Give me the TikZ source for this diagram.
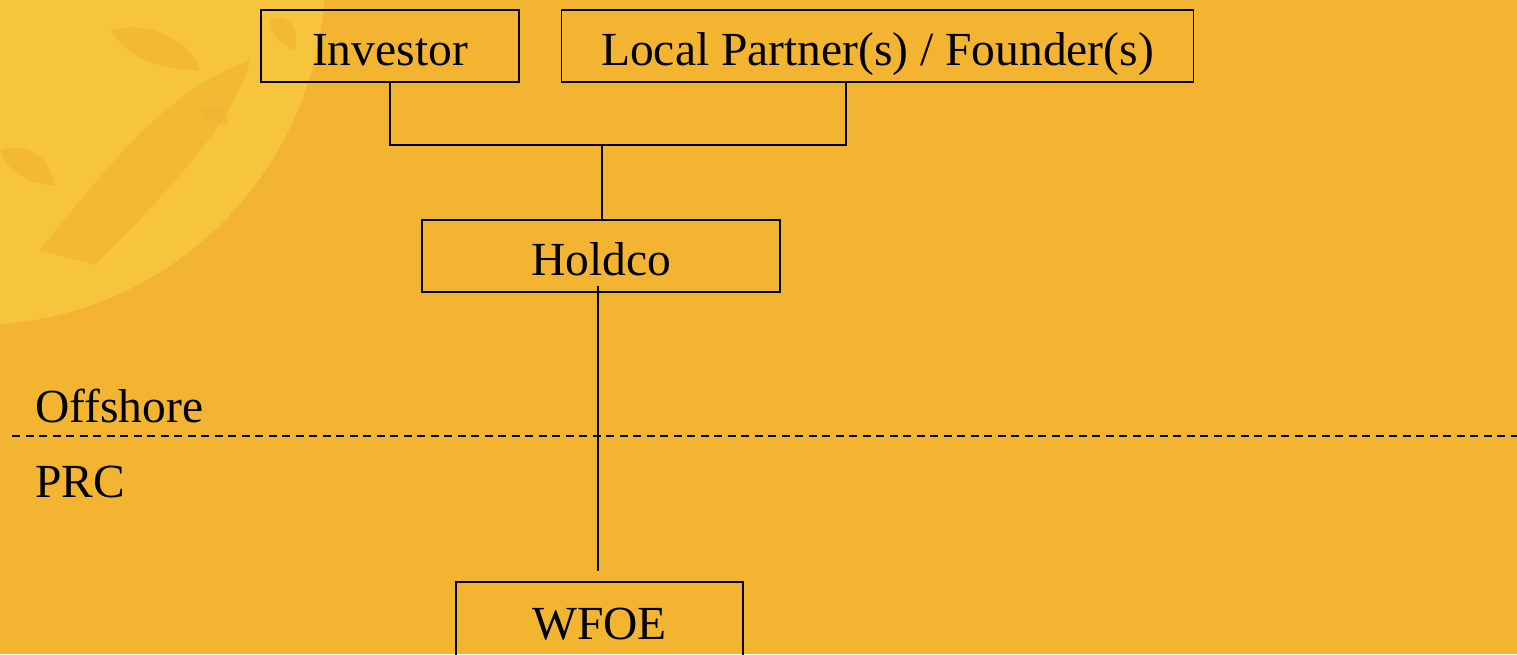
\documentclass[tikz,border=0pt]{standalone}
\usepackage{fontspec}
\setmainfont{Liberation Serif}
\usetikzlibrary{calc}
\definecolor{bgorange}{HTML}{F2B431}
\definecolor{lightorn}{HTML}{F7C53B}
\tikzset{
  entity/.style={draw=black, line width=1.8pt, fill=none, inner sep=0pt, align=center,
    font=\fontsize{47.5}{56}\selectfont},
  side/.style={font=\fontsize{47.5}{56}\selectfont, inner sep=0pt},
  link/.style={draw=black, line width=1.8pt},
  border/.style={draw=black, line width=1.6pt, dash pattern=on 8pt off 5.5pt},
}
\begin{document}
\begin{tikzpicture}[x=1pt,y=-1pt]
  \useasboundingbox (0,0) rectangle (1517,654);
  \clip (0,0) rectangle (1517,654);
  \fill[bgorange] (0,0) rectangle (1517,654);
  % decorative paper-cut motif, top left
  \fill[lightorn] (-25,-25) circle (350);
  \begin{scope}[bgorange, opacity=0.7]
    \fill (40,250) .. controls (120,150) and (170,90) .. (250,60) .. controls (235,120) and (170,190) .. (95,265) -- cycle;
    \fill (110,30) .. controls (150,20) and (190,40) .. (200,70) .. controls (160,70) and (130,60) .. (110,30) -- cycle;
    \fill (0,150) .. controls (30,140) and (50,160) .. (55,185) .. controls (30,185) and (10,175) .. (0,150) -- cycle;
    \fill (270,20) .. controls (290,10) and (300,30) .. (295,50) .. controls (280,45) and (270,35) .. (270,20) -- cycle;
    \fill (200,110) .. controls (215,100) and (230,110) .. (228,125) .. controls (215,125) and (205,120) .. (200,110) -- cycle;
  \end{scope}

  \node[entity, minimum width=258pt, text height=55pt, text depth=17pt] (inv) at (390,46) {Investor};
  \node[entity, minimum width=632pt, text height=55pt, text depth=17pt] (loc) at (877.5,46) {Local Partner(s) / Founder(s)};
  \node[entity, minimum width=358pt, text height=55pt, text depth=17pt] (hold) at (601,256) {Holdco};
  \node[entity, minimum width=287pt, text height=57pt, text depth=33pt] (wfoe) at (599.5,627) {WFOE};

  \node[side, anchor=base west] (off) at (35,422) {Offshore};
  \node[side, anchor=base west] (prc) at (35,497) {PRC};

  \coordinate (j) at (602,145);
  \coordinate (bl) at (12,436);
  \coordinate (br) at (1517,436);

  \draw[link] (inv.south) |- (j) -| ([xshift=-31.5pt]loc.south);
  \draw[link] (j) -- (j |- hold.north);
  \draw[link] ([xshift=-3pt,yshift=7pt]hold.south) -- ([xshift=-1.5pt,yshift=10pt]wfoe.north);
  \draw[border] (bl) -- (br);
\end{tikzpicture}
\end{document}
